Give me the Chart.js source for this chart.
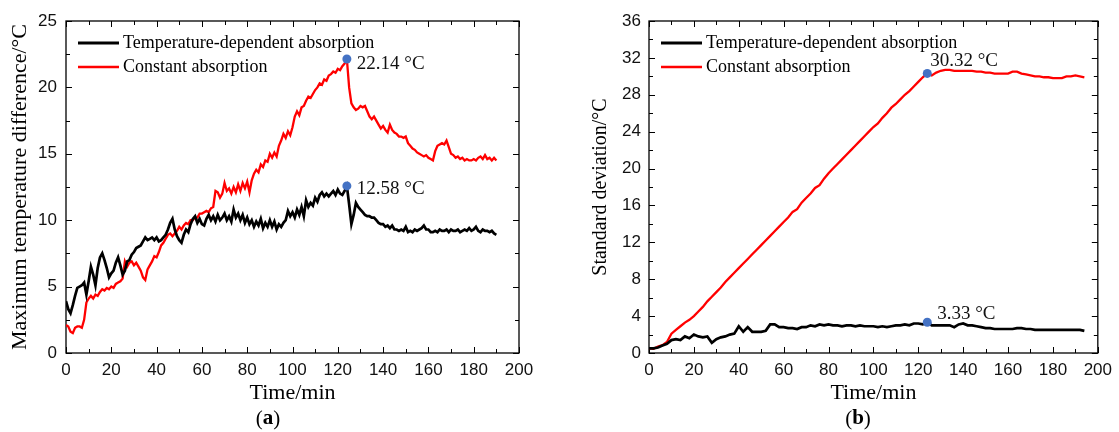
<!DOCTYPE html>
<html><head><meta charset="utf-8">
<script src="https://cdn.jsdelivr.net/npm/chart.js@4.4.1/dist/chart.umd.min.js"></script>
<style>
html,body{margin:0;padding:0;background:#fff;}
#wrap{position:relative;width:1119px;height:432px;overflow:hidden;}
.pane{position:absolute;top:0;height:432px;}
</style></head><body>
<div id="wrap">
<div class="pane" style="left:0;width:560px"><canvas id="ca" width="560" height="432"></canvas></div>
<div class="pane" style="left:560px;width:559px"><canvas id="cb" width="559" height="432"></canvas></div>
</div>
<script>
// ---------------- DATA ----------------
const seriesNames = ['Temperature-dependent absorption', 'Constant absorption'];
const xTitle = 'Time/min';
const yTitleA = 'Maximum temperature difference/°C';
const yTitleB = 'Standard deviation/°C';

// Panel (a): one value per minute, t = 0..190
const stepA = 1;
const tempDepA = [
 3.9,3.3,3.0,3.6,4.3,4.9,5.0,5.1,5.3,4.4,
 5.4,6.5,5.9,5.1,6.4,7.2,7.5,7.0,6.4,5.7,
 6.0,6.2,6.8,7.2,6.6,5.9,6.2,6.9,7.0,7.4,
 7.6,7.9,8.0,8.1,8.4,8.7,8.5,8.6,8.7,8.5,
 8.7,8.4,8.5,8.7,8.9,9.3,9.8,10.1,9.3,8.8,
 8.5,8.3,8.9,9.3,9.1,9.7,10.1,10.3,9.8,10.1,
 9.7,9.6,10.1,10.4,10.0,10.3,9.9,10.4,10.0,10.2,
 10.5,10.0,10.3,9.9,10.8,10.2,10.5,10.0,10.4,9.8,
 10.2,9.7,10.0,9.5,9.9,9.6,10.1,9.4,9.8,9.5,
 10.0,9.5,9.9,9.3,9.7,9.5,9.8,10.0,10.7,10.3,
 10.6,10.2,10.8,10.4,11.0,10.3,11.5,11.0,11.3,11.1,
 11.7,11.4,11.9,12.1,11.8,12.0,11.8,12.0,12.2,11.9,
 12.3,12.0,11.9,12.2,12.58,11.2,9.7,10.4,11.3,11.0,
 10.8,10.6,10.4,10.3,10.3,10.2,10.2,10.0,9.8,9.7,
 9.7,9.5,9.6,9.4,9.6,9.3,9.3,9.2,9.3,9.2,
 9.5,9.1,9.2,9.1,9.3,9.2,9.3,9.4,9.6,9.3,
 9.3,9.1,9.1,9.2,9.1,9.3,9.2,9.2,9.3,9.1,
 9.3,9.2,9.2,9.3,9.1,9.2,9.3,9.2,9.4,9.2,
 9.3,9.5,9.2,9.1,9.3,9.2,9.2,9.1,9.2,9.0,
 8.9
];
const constantA = [
 2.1,2.0,1.6,1.5,1.9,2.0,2.0,1.9,2.5,3.8,
 4.1,4.3,4.1,4.4,4.3,4.6,4.8,4.7,4.9,4.8,
 5.0,4.9,5.2,5.3,5.4,5.6,6.9,6.5,6.8,6.9,
 6.6,6.8,6.5,6.2,5.7,5.5,6.3,6.6,6.9,7.3,
 7.2,7.6,8.1,8.3,8.6,8.9,9.0,8.8,9.0,9.2,
 9.5,9.3,9.6,9.8,9.7,10.0,10.0,10.2,10.2,10.5,
 10.5,10.6,10.7,10.6,10.9,11.0,12.2,12.1,11.7,12.0,
 12.8,12.2,12.4,12.0,12.5,12.1,12.7,12.2,12.8,12.4,
 12.9,12.1,13.0,13.5,13.8,13.6,14.2,14.0,14.5,14.4,
 15.0,14.7,15.1,14.8,15.6,16.0,16.5,16.2,16.7,16.4,
 17.0,17.8,18.2,17.9,18.5,18.6,19.0,19.3,19.2,19.5,
 19.8,20.0,20.3,20.2,20.6,20.5,20.9,21.0,21.2,21.1,
 21.4,21.3,21.6,21.8,22.14,20.0,18.8,18.5,18.3,18.4,
 18.6,18.5,18.6,18.2,17.8,17.6,17.8,17.5,17.2,16.9,
 17.1,16.8,16.6,17.2,16.8,16.6,16.5,16.3,16.3,16.2,
 16.3,15.8,15.6,15.4,15.3,15.1,15.0,14.9,14.8,14.9,
 14.7,14.6,14.5,15.2,15.6,15.7,15.8,15.7,16.0,15.5,
 15.0,14.9,14.7,14.8,14.6,14.7,14.5,14.6,14.5,14.5,
 14.6,14.5,14.7,14.8,14.6,14.9,14.6,14.7,14.5,14.7,
 14.5
];
const peaksA = [ {t:124, v:22.14, text:'22.14 °C'}, {t:124, v:12.58, text:'12.58 °C'} ];

// Panel (b): one value every 2 minutes, t = 0..194
const stepB = 2;
const tempDepB = [
 0.5,0.5,0.6,0.8,1.0,1.4,1.5,1.4,1.8,1.6,
 2.0,1.8,1.7,1.8,1.1,1.5,1.7,1.8,2.0,2.1,
 2.9,2.3,2.8,2.3,2.3,2.3,2.4,3.1,3.1,2.8,
 2.8,2.7,2.7,2.6,2.8,2.8,3.0,2.9,3.1,3.0,
 3.1,3.0,3.0,2.9,3.0,3.0,2.9,3.0,2.9,2.9,
 2.9,2.8,2.9,2.8,2.9,3.0,3.0,3.1,3.0,3.2,
 3.2,3.1,3.33,3.0,3.0,3.0,3.0,3.0,2.8,3.1,
 3.2,3.0,3.0,2.9,2.8,2.7,2.7,2.6,2.6,2.6,
 2.6,2.6,2.7,2.7,2.6,2.6,2.5,2.5,2.5,2.5,
 2.5,2.5,2.5,2.5,2.5,2.5,2.5,2.4
];
const constantB = [
 0.5,0.45,0.7,0.85,1.2,2.1,2.5,2.9,3.3,3.6,
 4.0,4.5,5.0,5.6,6.1,6.6,7.1,7.7,8.2,8.7,
 9.2,9.7,10.2,10.7,11.2,11.7,12.2,12.7,13.2,13.7,
 14.2,14.7,15.3,15.6,16.3,16.8,17.3,17.9,18.2,18.9,
 19.5,20.0,20.5,21.0,21.5,22.0,22.5,23.0,23.5,24.0,
 24.5,24.9,25.5,26.0,26.6,27.0,27.5,28.0,28.4,28.9,
 29.4,29.9,30.32,30.1,30.4,30.6,30.7,30.7,30.6,30.6,
 30.6,30.6,30.6,30.5,30.5,30.4,30.4,30.3,30.3,30.3,
 30.3,30.5,30.5,30.3,30.2,30.1,30.0,30.0,29.9,29.9,
 29.8,29.8,29.8,30.0,30.0,30.1,30.0,29.9
];
const peaksB = [ {t:124, v:30.32, text:'30.32 °C'}, {t:124, v:3.33, text:'3.33 °C'} ];

const xTicks = {min:0, max:200, step:20};
const yTicksA = {min:0, max:25, step:5};
const yTicksB = {min:0, max:36, step:4};

// ---------------- RENDERING ----------------
const SERIF = '"Liberation Serif", "Times New Roman", serif';
const SANS = '"Liberation Sans", Arial, sans-serif';
const COLORS = ['#000000', '#ff0000'];
const DOT = '#4472c4';

function toPoints(values, step){ return values.map((v,i)=>({x:i*step, y:v})); }

function decoPlugin(cfg){
  return {
    id:'deco',
    beforeDatasetsDraw(chart){
      const {ctx, chartArea:a, scales:{x,y}} = chart;
      ctx.save();
      ctx.strokeStyle = '#000'; ctx.lineWidth = 1.3;
      ctx.strokeRect(a.left, a.top, a.right-a.left, a.bottom-a.top);
      ctx.lineWidth = 1;
      const ticks = (scale, horiz) => {
        const vals = scale.ticks.map(t=>t.value);
        const minors = [];
        for (let i=0;i<vals.length-1;i++) minors.push((vals[i]+vals[i+1])/2);
        const draw = (v,len) => {
          const p = Math.round(scale.getPixelForValue(v))+0.5;
          ctx.beginPath();
          if (horiz){ ctx.moveTo(p,a.bottom); ctx.lineTo(p,a.bottom-len); ctx.moveTo(p,a.top); ctx.lineTo(p,a.top+len); }
          else { ctx.moveTo(a.left,p); ctx.lineTo(a.left+len,p); ctx.moveTo(a.right,p); ctx.lineTo(a.right-len,p); }
          ctx.stroke();
        };
        vals.forEach(v=>draw(v,6)); minors.forEach(v=>draw(v,4));
      };
      ticks(x,true); ticks(y,false);
      ctx.restore();
    },
    afterDatasetsDraw(chart){
      const {ctx, scales:{x,y}} = chart;
      ctx.save();
      // legend
      ctx.font = '18px ' + SERIF;
      ctx.textBaseline = 'middle';
      ctx.fillStyle = '#000';
      seriesNames.forEach((name,i)=>{
        const yy = cfg.legendY + i*24;
        ctx.strokeStyle = COLORS[i];
        ctx.lineWidth = i===0 ? 3 : 2.5;
        ctx.beginPath(); ctx.moveTo(cfg.legendX, yy); ctx.lineTo(cfg.legendX+41, yy); ctx.stroke();
        ctx.fillText(name, cfg.legendX+45, yy);
      });
      // peak labels
      ctx.font = '19px ' + SERIF;
      cfg.peaks.forEach((p,i)=>{
        const px = x.getPixelForValue(p.t), py = y.getPixelForValue(p.v);
        const off = cfg.labelOffsets[i];
        ctx.fillStyle = '#111';
        ctx.fillText(p.text, px+off[0], py+off[1]);
      });
      // caption
      ctx.textBaseline = 'middle';
      ctx.fillStyle = '#000';
      ctx.font = '21px ' + SERIF;
      const w1 = ctx.measureText('(').width;
      ctx.font = 'bold 21px ' + SERIF;
      const w2 = ctx.measureText(cfg.caption).width;
      ctx.font = '21px ' + SERIF;
      const w3 = ctx.measureText(')').width;
      let cx = cfg.captionX - (w1+w2+w3)/2;
      ctx.fillText('(', cx, cfg.captionY); cx += w1;
      ctx.font = 'bold 21px ' + SERIF; ctx.fillText(cfg.caption, cx, cfg.captionY); cx += w2;
      ctx.font = '21px ' + SERIF; ctx.fillText(')', cx, cfg.captionY);
      ctx.restore();
    }
  };
}

function makeChart(id, cfg){
  const datasets = [
    {label:seriesNames[1], data:toPoints(cfg.constant, cfg.step), borderColor:COLORS[1], borderWidth:2.3, pointRadius:0, tension:0, order:2},
    {label:seriesNames[0], data:toPoints(cfg.tempDep, cfg.step), borderColor:COLORS[0], borderWidth:2.7, pointRadius:0, tension:0, order:1},
    {label:'peaks', data:cfg.peaks.map(p=>({x:p.t, y:p.v})), showLine:false, pointRadius:4.5, pointBackgroundColor:DOT, pointBorderWidth:0, borderColor:DOT, order:0}
  ];
  return new Chart(document.getElementById(id), {
    type:'line',
    data:{datasets},
    options:{
      responsive:false, animation:false, events:[],
      layout:{padding:{top:21, right:cfg.padRight, left:0, bottom:0}},
      plugins:{legend:{display:false}, tooltip:{enabled:false}},
      scales:{
        x:{type:'linear', min:xTicks.min, max:xTicks.max,
           ticks:{stepSize:xTicks.step, padding:7, color:'#111', font:{family:SANS, size:17}, maxRotation:0, autoSkip:false},
           grid:{display:false, drawTicks:false}, border:{display:false},
           title:{display:true, text:xTitle, color:'#000', font:{family:SERIF, size:22}, padding:{top:0, bottom:26}},
           afterFit:s=>{ s.height = 79; }},
        y:{type:'linear', min:cfg.yt.min, max:cfg.yt.max,
           ticks:{stepSize:cfg.yt.step, padding:cfg.yPad, color:'#111', font:{family:SANS, size:17}},
           grid:{display:false, drawTicks:false}, border:{display:false},
           title:{display:true, text:cfg.yTitle, color:'#000', font:{family:SERIF, size:cfg.yTitleSize}, padding:{top:cfg.yTitlePad, bottom:0}},
           afterFit:s=>{ s.width = cfg.leftW; }}
      }
    },
    plugins:[decoPlugin(cfg)]
  });
}

makeChart('ca', {
  tempDep:tempDepA, constant:constantA, step:stepA, peaks:peaksA, yt:yTicksA,
  yTitle:yTitleA, yTitleSize:22, yTitlePad:7, yPad:9, leftW:66, padRight:41,
  legendX:78, legendY:43, labelOffsets:[[10,5],[10,3]], caption:'a', captionX:268, captionY:419
});
makeChart('cb', {
  tempDep:tempDepB, constant:constantB, step:stepB, peaks:peaksB, yt:yTicksB,
  yTitle:yTitleB, yTitleSize:20, yTitlePad:29, yPad:8, leftW:89, padRight:13,
  legendX:101, legendY:43, labelOffsets:[[3,-12],[10,-8]], caption:'b', captionX:298, captionY:419
});
</script>
</body></html>
